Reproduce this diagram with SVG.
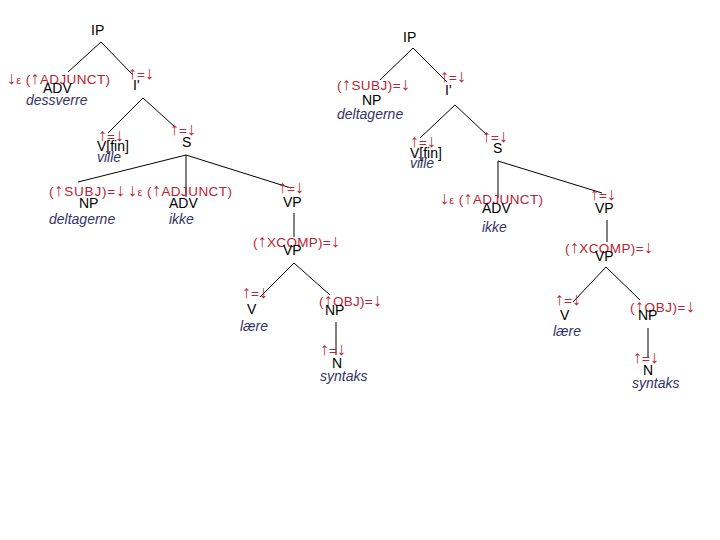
<svg xmlns="http://www.w3.org/2000/svg" width="720" height="540" viewBox="0 0 720 540">
<style>
.c{font-family:"Liberation Sans",Arial,sans-serif;font-size:14px;fill:#000}
.f{font-family:"Liberation Sans",Arial,sans-serif;font-size:13.5px;fill:#bb2233}
.a{font-size:18px}
.s{font-size:11px}
.w{font-family:"Liberation Sans",Arial,sans-serif;font-size:14px;font-style:italic;fill:#333366}
.e line{stroke:#000;stroke-width:1}
</style>
<rect width="720" height="540" fill="#fff"/>
<g class="e" id="connectors">
<line x1="101" y1="42" x2="68" y2="72"/>
<line x1="101" y1="42" x2="133" y2="75"/>
<line x1="143" y1="98" x2="108" y2="133"/>
<line x1="143" y1="98" x2="175" y2="127"/>
<line x1="186" y1="155" x2="78" y2="182"/>
<line x1="186" y1="155" x2="186" y2="197"/>
<line x1="186" y1="155" x2="291" y2="188"/>
<line x1="294" y1="213" x2="294" y2="237"/>
<line x1="294" y1="263" x2="260" y2="297"/>
<line x1="294" y1="263" x2="330" y2="295"/>
<line x1="336" y1="322" x2="336" y2="355"/>
<line x1="413" y1="48" x2="380" y2="80"/>
<line x1="413" y1="48" x2="447" y2="82"/>
<line x1="455" y1="105" x2="420" y2="138"/>
<line x1="455" y1="105" x2="487" y2="135"/>
<line x1="498" y1="161" x2="498" y2="198"/>
<line x1="498" y1="161" x2="602" y2="193"/>
<line x1="607" y1="220" x2="607" y2="242"/>
<line x1="606" y1="267" x2="573" y2="302"/>
<line x1="606" y1="267" x2="640" y2="300"/>
<line x1="648" y1="328" x2="648" y2="357"/>
</g>
<g id="L-IP"><text class="c" x="91" y="35">IP</text></g>
<g id="L-ADV1"><text class="f" x="7" y="84" textLength="103"><tspan class="a">↓</tspan><tspan class="s">ε</tspan> (<tspan class="a">↑</tspan>ADJUNCT)</text><text class="c" x="43" y="93">ADV</text><text class="w" x="26" y="105">dessverre</text></g>
<g id="L-Ibar"><text class="f" x="128" y="79"><tspan class="a">↑</tspan>=<tspan class="a">↓</tspan></text><text class="c" x="133" y="90">I'</text></g>
<g id="L-Vfin"><text class="f" x="98" y="141"><tspan class="a">↑</tspan>=<tspan class="a">↓</tspan></text><text class="c" x="97" y="151">V[fin]</text><text class="w" x="97" y="162">ville</text></g>
<g id="L-S"><text class="f" x="170" y="135"><tspan class="a">↑</tspan>=<tspan class="a">↓</tspan></text><text class="c" x="182" y="147">S</text></g>
<g id="L-NP"><text class="f" x="49" y="196" textLength="76">(<tspan class="a">↑</tspan>SUBJ)=<tspan class="a">↓</tspan></text><text class="c" x="79" y="208">NP</text><text class="w" x="49" y="224">deltagerne</text></g>
<g id="L-ADV2"><text class="f" x="128" y="196" textLength="104"><tspan class="a">↓</tspan><tspan class="s">ε</tspan> (<tspan class="a">↑</tspan>ADJUNCT)</text><text class="c" x="169" y="208">ADV</text><text class="w" x="169" y="224">ikke</text></g>
<g id="L-VP1"><text class="f" x="278" y="193"><tspan class="a">↑</tspan>=<tspan class="a">↓</tspan></text><text class="c" x="283" y="207">VP</text></g>
<g id="L-VP2"><text class="f" x="253" y="247" textLength="87">(<tspan class="a">↑</tspan>XCOMP)=<tspan class="a">↓</tspan></text><text class="c" x="283" y="255">VP</text></g>
<g id="L-V"><text class="f" x="242" y="298"><tspan class="a">↑</tspan>=<tspan class="a">↓</tspan></text><text class="c" x="247" y="314">V</text><text class="w" x="240" y="331">lære</text></g>
<g id="L-NP2"><text class="f" x="319" y="306" textLength="63">(<tspan class="a">↑</tspan>OBJ)=<tspan class="a">↓</tspan></text><text class="c" x="325" y="315">NP</text></g>
<g id="L-N"><text class="f" x="320" y="355"><tspan class="a">↑</tspan>=<tspan class="a">↓</tspan></text><text class="c" x="332" y="368">N</text><text class="w" x="320" y="381">syntaks</text></g>
<g id="R-IP"><text class="c" x="403" y="42">IP</text></g>
<g id="R-NP"><text class="f" x="337" y="90" textLength="73">(<tspan class="a">↑</tspan>SUBJ)=<tspan class="a">↓</tspan></text><text class="c" x="362" y="105">NP</text><text class="w" x="337" y="119">deltagerne</text></g>
<g id="R-Ibar"><text class="f" x="440" y="82"><tspan class="a">↑</tspan>=<tspan class="a">↓</tspan></text><text class="c" x="445" y="95">I'</text></g>
<g id="R-Vfin"><text class="f" x="410" y="147"><tspan class="a">↑</tspan>=<tspan class="a">↓</tspan></text><text class="c" x="410" y="158">V[fin]</text><text class="w" x="410" y="168">ville</text></g>
<g id="R-S"><text class="f" x="482" y="142"><tspan class="a">↑</tspan>=<tspan class="a">↓</tspan></text><text class="c" x="493" y="153">S</text></g>
<g id="R-ADV"><text class="f" x="440" y="204" textLength="103"><tspan class="a">↓</tspan><tspan class="s">ε</tspan> (<tspan class="a">↑</tspan>ADJUNCT)</text><text class="c" x="482" y="213">ADV</text><text class="w" x="482" y="232">ikke</text></g>
<g id="R-VP1"><text class="f" x="590" y="200"><tspan class="a">↑</tspan>=<tspan class="a">↓</tspan></text><text class="c" x="595" y="213">VP</text></g>
<g id="R-VP2"><text class="f" x="565" y="253" textLength="88">(<tspan class="a">↑</tspan>XCOMP)=<tspan class="a">↓</tspan></text><text class="c" x="595" y="261">VP</text></g>
<g id="R-V"><text class="f" x="555" y="305"><tspan class="a">↑</tspan>=<tspan class="a">↓</tspan></text><text class="c" x="560" y="320">V</text><text class="w" x="553" y="336">lære</text></g>
<g id="R-NP2"><text class="f" x="630" y="312" textLength="65">(<tspan class="a">↑</tspan>OBJ)=<tspan class="a">↓</tspan></text><text class="c" x="638" y="320">NP</text></g>
<g id="R-N"><text class="f" x="633" y="363"><tspan class="a">↑</tspan>=<tspan class="a">↓</tspan></text><text class="c" x="643" y="375">N</text><text class="w" x="632" y="388">syntaks</text></g>
</svg>
